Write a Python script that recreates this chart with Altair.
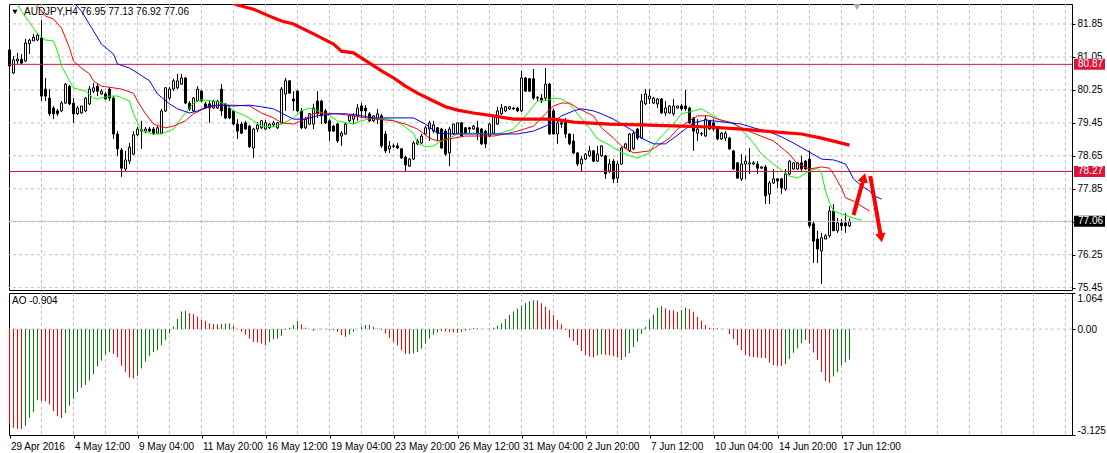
import altair as alt
import pandas as pd

# ---------------- data ----------------
opens = [81.22, 80.66, 80.95, 81.00, 80.95, 81.37, 81.44, 81.46, 81.51, 80.27,
         80.05, 79.81, 79.74, 79.74, 79.93, 80.34, 79.93, 79.67, 79.69, 79.74,
         79.91, 80.22, 80.34, 80.15, 80.15, 80.27, 80.05, 79.18, 78.79, 78.33,
         78.52, 78.69, 79.16, 79.25, 79.25, 79.30, 79.30, 79.20, 79.20, 79.74,
         80.05, 80.27, 80.30, 80.39, 80.54, 79.93, 79.74, 79.98, 80.22, 79.91,
         79.91, 79.81, 79.81, 80.27, 79.91, 79.81, 79.74, 79.42, 79.42, 79.45,
         79.37, 78.84, 79.30, 79.33, 79.30, 79.33, 79.40, 79.33, 79.45, 80.15,
         80.47, 80.03, 80.22, 79.74, 79.33, 79.42, 79.42, 79.98, 79.98, 79.74,
         79.50, 79.37, 79.42, 79.13, 79.18, 79.50, 79.54, 79.62, 79.86, 79.81,
         79.67, 79.50, 79.54, 79.62, 79.18, 78.82, 78.89, 78.89, 78.82, 78.62,
         78.40, 78.57, 78.94, 78.96, 79.18, 79.30, 79.25, 79.33, 79.30, 79.25,
         78.72, 79.18, 79.20, 79.45, 79.33, 79.33, 79.30, 79.33, 79.30, 79.25,
         79.13, 79.20, 79.42, 79.67, 79.74, 79.79, 79.81, 79.81, 79.74, 80.54,
         80.52, 80.52, 80.05, 80.05, 80.05, 80.39, 79.74, 79.18, 79.45, 79.50,
         79.18, 79.01, 78.72, 78.45, 78.57, 78.65, 78.77, 78.52, 78.65, 78.65,
         78.28, 78.52, 78.11, 78.45, 78.84, 78.77, 78.82, 79.30, 79.08, 79.91,
         80.03, 79.93, 79.91, 80.03, 79.69, 79.69, 79.67, 79.81, 79.86, 79.86,
         79.81, 79.57, 79.20, 79.18, 79.13, 79.50, 79.45, 79.33, 79.06, 79.08,
         79.08, 78.77, 78.48, 78.09, 78.45, 78.45, 78.45, 78.45, 78.35, 78.38,
         77.72, 77.99, 78.09, 78.09, 77.84, 78.21, 78.33, 78.33, 78.48, 78.52,
         78.57, 77.00, 76.63, 76.34, 76.63, 76.71, 77.31, 76.83, 77.02, 77.02,
         76.95]
highs = [81.27, 81.07, 81.15, 81.12, 81.49, 81.49, 81.61, 81.63, 81.95, 80.54,
         80.27, 79.86, 79.79, 79.98, 80.42, 80.37, 80.05, 79.86, 79.86, 80.08,
         80.34, 80.42, 80.39, 80.27, 80.20, 80.32, 80.10, 79.25, 78.84, 78.77,
         78.96, 79.25, 79.35, 79.50, 79.35, 79.35, 79.35, 79.37, 79.79, 80.32,
         80.32, 80.52, 80.64, 80.64, 80.56, 79.98, 80.08, 80.34, 80.25, 79.96,
         79.98, 80.01, 80.01, 80.39, 79.93, 79.86, 79.76, 79.54, 79.47, 79.50,
         79.40, 79.33, 79.47, 79.52, 79.52, 79.45, 79.50, 79.47, 80.32, 80.54,
         80.49, 80.22, 80.25, 79.81, 79.59, 79.69, 79.91, 80.22, 80.01, 79.79,
         79.54, 79.40, 79.45, 79.25, 79.45, 79.64, 79.69, 79.91, 79.93, 79.88,
         79.71, 79.64, 79.79, 79.67, 79.25, 79.01, 78.94, 78.96, 78.84, 78.65,
         78.60, 79.01, 79.06, 79.18, 79.37, 79.50, 79.50, 79.35, 79.33, 79.30,
         79.35, 79.42, 79.45, 79.47, 79.35, 79.35, 79.40, 79.50, 79.33, 79.28,
         79.45, 79.64, 79.84, 79.91, 79.86, 79.86, 79.84, 79.84, 80.71, 80.56,
         80.54, 80.76, 80.10, 80.15, 80.78, 80.42, 79.79, 79.50, 79.54, 79.57,
         79.20, 79.18, 78.74, 78.65, 78.72, 78.89, 78.79, 78.89, 78.91, 78.67,
         78.57, 78.57, 78.52, 78.87, 78.96, 79.20, 79.25, 79.33, 80.15, 80.27,
         80.27, 80.08, 80.05, 80.05, 79.98, 79.88, 80.03, 79.86, 79.91, 80.25,
         79.84, 79.59, 79.54, 79.23, 79.64, 79.52, 79.54, 79.35, 79.23, 79.25,
         79.11, 78.79, 78.50, 78.69, 78.65, 78.84, 78.52, 78.52, 78.40, 78.43,
         78.04, 78.33, 78.11, 78.11, 78.33, 78.55, 78.50, 78.50, 78.65, 78.55,
         78.77, 77.07, 76.83, 76.78, 76.75, 77.43, 77.48, 77.14, 77.12, 77.26,
         77.13]
lows = [80.78, 80.64, 80.88, 80.88, 80.93, 81.12, 81.44, 81.44, 79.98, 79.98,
        79.62, 79.54, 79.62, 79.71, 79.91, 79.88, 79.45, 79.64, 79.67, 79.71,
        79.88, 80.17, 80.10, 80.13, 80.01, 79.98, 79.06, 78.65, 78.14, 78.28,
        78.45, 78.67, 79.13, 78.82, 79.20, 79.23, 79.16, 79.18, 79.18, 79.71,
        80.01, 80.22, 80.27, 80.37, 79.91, 79.74, 79.71, 79.96, 79.96, 79.79,
        79.45, 79.79, 79.79, 79.62, 79.54, 79.54, 79.40, 79.06, 79.18, 79.28,
        78.84, 78.60, 79.23, 79.30, 79.28, 79.30, 79.35, 79.30, 79.42, 79.74,
        80.17, 79.74, 79.71, 79.30, 79.30, 79.40, 79.30, 79.57, 79.42, 79.42,
        79.01, 79.23, 78.96, 78.89, 79.16, 79.47, 79.42, 79.50, 79.57, 79.57,
        79.47, 79.47, 79.42, 78.84, 78.72, 78.72, 78.84, 78.82, 78.57, 78.26,
        78.38, 78.55, 78.91, 78.94, 79.16, 79.01, 79.20, 79.01, 78.82, 78.65,
        78.40, 79.16, 79.18, 79.11, 79.18, 79.20, 79.28, 79.03, 78.91, 78.84,
        79.11, 79.18, 79.40, 79.64, 79.71, 79.76, 79.76, 79.71, 79.71, 80.20,
        80.20, 80.01, 79.98, 79.93, 79.98, 79.16, 79.16, 78.94, 79.33, 79.08,
        78.91, 78.69, 78.40, 78.28, 78.55, 78.62, 78.50, 78.50, 78.62, 78.09,
        78.23, 77.99, 77.99, 78.43, 78.82, 78.74, 78.79, 79.03, 79.06, 79.88,
        79.91, 79.91, 79.81, 79.67, 79.62, 79.67, 79.62, 79.79, 79.74, 79.74,
        79.42, 78.77, 79.01, 79.13, 79.11, 79.28, 79.25, 79.03, 79.03, 79.01,
        78.79, 78.31, 78.09, 78.04, 78.09, 78.21, 78.43, 78.21, 78.33, 77.48,
        77.48, 77.97, 77.87, 77.72, 77.80, 78.18, 78.31, 78.31, 78.28, 78.31,
        76.90, 76.05, 76.05, 75.54, 76.63, 76.66, 76.83, 76.78, 76.83, 76.78,
        76.92]
closes = [80.83, 80.98, 81.00, 80.90, 81.39, 81.46, 81.53, 81.58, 80.10, 80.10,
          79.67, 79.67, 79.67, 79.93, 80.39, 79.91, 79.67, 79.81, 79.86, 80.05,
          80.27, 80.30, 80.22, 80.22, 80.03, 80.05, 79.18, 78.82, 78.35, 78.55,
          78.86, 79.16, 79.30, 79.28, 79.30, 79.25, 79.18, 79.33, 79.74, 80.30,
          80.27, 80.47, 80.47, 80.54, 79.93, 79.79, 80.05, 80.27, 79.98, 79.81,
          79.81, 79.98, 79.98, 79.74, 79.57, 79.57, 79.42, 79.25, 79.20, 79.30,
          78.87, 79.30, 79.40, 79.50, 79.45, 79.42, 79.45, 79.45, 80.27, 80.47,
          80.17, 79.98, 79.74, 79.33, 79.54, 79.67, 79.81, 79.67, 79.62, 79.45,
          79.25, 79.25, 79.01, 79.20, 79.42, 79.62, 79.62, 79.81, 79.74, 79.74,
          79.50, 79.62, 79.67, 78.89, 78.77, 78.89, 78.88, 78.84, 78.60, 78.43,
          78.57, 78.96, 79.01, 79.13, 79.33, 79.45, 79.40, 79.20, 78.84, 78.69,
          79.30, 79.42, 79.45, 79.13, 79.20, 79.30, 79.37, 79.18, 78.94, 78.94,
          79.42, 79.62, 79.74, 79.81, 79.84, 79.84, 79.79, 79.74, 80.54, 80.22,
          80.22, 80.05, 80.07, 79.98, 80.39, 79.18, 79.18, 79.45, 79.42, 79.18,
          78.94, 78.72, 78.45, 78.57, 78.69, 78.77, 78.52, 78.69, 78.89, 78.21,
          78.45, 78.09, 78.45, 78.84, 78.94, 79.18, 79.20, 79.08, 79.98, 80.15,
          80.10, 80.05, 80.03, 79.69, 79.81, 79.86, 79.86, 79.86, 79.79, 79.79,
          79.45, 79.25, 79.30, 79.19, 79.54, 79.30, 79.30, 79.06, 79.20, 79.20,
          78.82, 78.33, 78.11, 78.45, 78.52, 78.48, 78.48, 78.35, 78.38, 77.68,
          77.99, 78.09, 78.04, 77.87, 78.21, 78.52, 78.48, 78.48, 78.33, 78.33,
          76.95, 76.58, 76.39, 76.66, 76.71, 77.31, 76.83, 77.02, 76.95, 76.95,
          77.06]

ao_values = [-2.78, -2.91, -2.94, -2.95, -2.86, -2.62, -2.45, -2.10, -2.12, -2.13,
             -2.22, -2.42, -2.57, -2.62, -2.48, -2.26, -2.06, -1.86, -1.73, -1.65,
             -1.52, -1.33, -1.10, -0.93, -0.75, -0.68, -0.73, -0.83, -1.08, -1.26,
             -1.43, -1.46, -1.38, -1.16, -0.96, -0.80, -0.68, -0.62, -0.48, -0.33,
             -0.13, 0.07, 0.30, 0.52, 0.54, 0.47, 0.44, 0.37, 0.27, 0.24,
             0.17, 0.15, 0.14, 0.15, 0.16, 0.17, 0.09, -0.01, -0.08, -0.16,
             -0.28, -0.38, -0.40, -0.43, -0.48, -0.38, -0.30, -0.28, -0.20, -0.03,
             0.04, 0.12, 0.24, 0.14, 0.04, 0.00, -0.05, -0.01, 0.01, -0.01,
             -0.02, -0.03, -0.08, -0.18, -0.23, -0.16, -0.08, 0.00, 0.07, 0.12,
             0.13, 0.07, 0.02, -0.03, -0.13, -0.26, -0.38, -0.48, -0.63, -0.73,
             -0.74, -0.72, -0.68, -0.58, -0.43, -0.28, -0.16, -0.10, -0.06, -0.07,
             -0.08, -0.10, -0.11, -0.08, -0.05, -0.02, 0.03, 0.02, 0.01, 0.00,
             0.02, 0.04, 0.10, 0.17, 0.30, 0.42, 0.52, 0.60, 0.69, 0.77,
             0.82, 0.85, 0.84, 0.76, 0.66, 0.56, 0.41, 0.26, 0.14, -0.03,
             -0.25, -0.35, -0.47, -0.65, -0.76, -0.81, -0.84, -0.78, -0.75, -0.76,
             -0.77, -0.80, -0.84, -0.91, -0.82, -0.71, -0.53, -0.37, -0.14, 0.06,
             0.28, 0.43, 0.63, 0.68, 0.61, 0.56, 0.55, 0.51, 0.56, 0.63,
             0.59, 0.51, 0.36, 0.24, 0.12, 0.04, 0.03, 0.02, 0.01, 0.00,
             -0.15, -0.29, -0.47, -0.62, -0.76, -0.81, -0.83, -0.84, -0.85, -0.86,
             -0.99, -1.06, -1.08, -1.09, -1.03, -0.88, -0.70, -0.57, -0.42, -0.32,
             -0.42, -0.69, -0.91, -1.27, -1.53, -1.58, -1.40, -1.27, -1.06, -0.98,
             -0.904]

# Alligator lines (bar index, price) and the long moving average
jaw_idx = [14, 18, 21, 23, 26, 27, 30, 32, 35, 37, 40, 42, 45, 47, 50, 53, 56, 60, 63, 66,
           68, 71, 74, 77, 81, 84, 87, 91, 94, 97, 101, 104, 107, 111, 117, 124, 127, 131, 134, 136,
           138, 141, 143, 146, 148, 151, 153, 156, 158, 161, 164, 166, 169, 171, 174, 176, 180, 183, 186, 190,
           193, 196, 200, 203, 206, 207, 209, 210, 211, 213, 215, 216, 218]
jaw_val = [82.60, 82.16, 81.68, 81.36, 81.12, 80.88, 80.78, 80.66, 80.47, 80.15, 79.91, 79.79, 79.69, 79.74, 79.86, 79.88, 79.86, 79.88, 79.84, 79.79,
           79.69, 79.54, 79.54, 79.62, 79.67, 79.67, 79.64, 79.57, 79.57, 79.57, 79.57, 79.42, 79.20, 79.18, 79.18, 79.18, 79.18, 79.25, 79.37, 79.47,
           79.62, 79.74, 79.79, 79.74, 79.67, 79.54, 79.42, 79.25, 79.08, 78.94, 78.94, 79.08, 79.30, 79.45, 79.52, 79.50, 79.45, 79.42, 79.33, 79.23,
           79.11, 78.96, 78.74, 78.57, 78.55, 78.52, 78.45, 78.28, 78.09, 77.92, 77.80, 77.68, 77.60]

teeth_idx = [6, 9, 11, 13, 15, 16, 18, 20, 21, 23, 26, 28, 31, 32, 34, 36, 39, 41, 44, 46,
             49, 52, 56, 60, 63, 66, 68, 71, 73, 76, 78, 82, 86, 89, 92, 96, 99, 102, 105, 107,
             111, 114, 121, 124, 127, 131, 134, 136, 138, 140, 142, 146, 148, 151, 153, 156, 160, 162, 165, 167,
             170, 172, 175, 177, 180, 183, 186, 191, 195, 197, 200, 203, 205, 206, 208, 209, 211, 213, 215]
teeth_val = [82.40, 82.04, 81.97, 81.75, 81.27, 80.95, 80.78, 80.64, 80.47, 80.34, 80.30, 80.27, 80.17, 79.98, 79.67, 79.42, 79.33, 79.37, 79.50, 79.67,
             79.81, 79.88, 79.88, 79.86, 79.69, 79.57, 79.45, 79.42, 79.50, 79.67, 79.69, 79.67, 79.62, 79.57, 79.54, 79.50, 79.42, 79.30, 79.08, 79.01,
             79.08, 79.13, 79.13, 79.18, 79.25, 79.37, 79.67, 79.86, 79.93, 79.93, 79.81, 79.62, 79.33, 79.08, 78.89, 78.72, 78.77, 78.89, 79.08, 79.30,
             79.50, 79.62, 79.62, 79.54, 79.47, 79.33, 79.20, 79.01, 78.69, 78.45, 78.33, 78.38, 78.35, 78.21, 77.87, 77.63, 77.55, 77.43, 77.31]

lips_idx = [1, 3, 6, 7, 9, 11, 12, 13, 15, 16, 19, 21, 22, 25, 27, 30, 31, 33, 36, 38,
            41, 43, 46, 48, 51, 54, 56, 59, 61, 63, 66, 68, 71, 73, 75, 77, 80, 82, 86, 88,
            91, 95, 98, 101, 102, 104, 106, 108, 110, 112, 116, 119, 122, 126, 129, 132, 135, 136, 138, 140,
            142, 145, 147, 150, 151, 155, 157, 160, 161, 163, 166, 168, 171, 173, 176, 178, 181, 183, 186, 188,
            191, 195, 197, 200, 202, 203, 204, 205, 206, 208, 211, 213]
lips_val = [82.50, 82.16, 81.75, 81.61, 81.46, 81.44, 81.19, 80.83, 80.47, 80.30, 80.22, 80.05, 80.03, 80.10, 80.10, 79.98, 79.67, 79.25, 79.18, 79.18,
            79.30, 79.57, 79.93, 80.01, 79.98, 79.91, 79.74, 79.62, 79.50, 79.37, 79.35, 79.42, 79.57, 79.74, 79.81, 79.74, 79.62, 79.50, 79.42, 79.50,
            79.57, 79.54, 79.42, 79.20, 78.96, 78.87, 78.89, 79.01, 79.08, 79.18, 79.20, 79.18, 79.18, 79.30, 79.62, 79.98, 80.01, 80.05, 80.03, 79.91,
            79.67, 79.33, 79.06, 78.91, 78.84, 78.65, 78.60, 78.72, 78.89, 79.13, 79.42, 79.67, 79.74, 79.79, 79.62, 79.50, 79.45, 79.28, 78.96, 78.69,
            78.45, 78.16, 78.11, 78.28, 78.35, 78.23, 77.80, 77.51, 77.31, 77.24, 77.14, 77.09]

ma_idx = [50, 57, 61, 65, 68, 71, 76, 81, 83, 86, 90, 93, 96, 99, 102, 106, 109, 112, 116, 121,
          126, 131, 136, 141, 150, 158, 168, 175, 183, 191, 198, 203, 210]
ma_val = [82.60, 82.31, 82.21, 82.04, 81.92, 81.85, 81.61, 81.36, 81.19, 81.15, 80.90, 80.71, 80.54, 80.34, 80.17, 79.98, 79.84, 79.76, 79.69, 79.62,
          79.54, 79.54, 79.54, 79.47, 79.42, 79.40, 79.37, 79.35, 79.30, 79.23, 79.18, 79.08, 78.91]

price_ticks = [81.85, 81.05, 80.25, 79.45, 78.65, 77.85, 77.05, 76.25, 75.45]
level_prices = [80.87, 78.27, 77.06]
level_texts = ["80.87", "78.27", "77.06"]
level_line_colors = ["#DC143C", "#DC143C", "#C0C0C0"]
level_box_colors = ["#DC143C", "#DC143C", "#000000"]

x_label_idx = [0, 16, 32, 48, 64, 80, 96, 112, 128, 144, 160, 176, 192, 208]
x_label_text = ["29 Apr 2016", "4 May 12:00", "9 May 04:00", "11 May 20:00", "16 May 12:00",
                "19 May 04:00", "23 May 20:00", "26 May 12:00", "31 May 04:00", "2 Jun 20:00",
                "7 Jun 12:00", "10 Jun 04:00", "14 Jun 20:00", "17 Jun 12:00"]
grid_idx = list(range(8, 265, 8))

arrow_i0 = [211.0, 215.2]
arrow_p0 = [77.21, 78.16]
arrow_i1 = [213.6, 217.9]
arrow_p1 = [78.12, 76.66]
arrow_angle = [15, 170]

title_text = "AUDJPY,H4 76.95 77.13 76.92 77.06"
ao_text = "AO -0.904"

# ---------------- chart ----------------
FONT = "Liberation Sans"
W, H_TOP, H_AO = 1063, 286, 142
xs = alt.Scale(domain=[-0.125, 265.625], nice=False, zero=False)
ys = alt.Scale(domain=[75.393, 82.335], nice=False, zero=False)
aos = alt.Scale(domain=[-3.125, 1.064], nice=False, zero=False)
GRID = dict(color="#C0C0C0", strokeDash=[3, 3], strokeWidth=1)

PRICE_AXIS = alt.Axis(
    orient="right", values=price_ticks, format=".2f", title=None, domain=False,
    grid=False, tickSize=3, tickColor="black", labelFont=FONT, labelFontSize=10,
    labelColor="black", labelPadding=2)
AO_AXIS = alt.Axis(
    orient="right", values=[1.064, 0.0, -3.125], title=None, domain=False, grid=False,
    labelExpr="datum.value > 0.5 ? '1.064' : (datum.value < -1 ? '-3.125' : '0.00')",
    labelFlush=True, tickSize=3, tickColor="black", labelFont=FONT,
    labelFontSize=10, labelColor="black", labelPadding=2)
label_array = "[" + ",".join("'" + t + "'" for t in x_label_text) + "]"
TIME_AXIS = alt.Axis(
    orient="bottom", values=x_label_idx, title=None, domain=False, grid=False,
    labelExpr=label_array + "[round(datum.value / 16)]",
    labelAlign="left", labelFlush=False, labelOverlap=False, labelOffset=1,
    tickSize=3, tickColor="black", labelFont=FONT, labelFontSize=10,
    labelColor="black", labelPadding=3)


def PY(field):
    return alt.Y(field, scale=ys, axis=PRICE_AXIS)


def TX(field, axis=None):
    return alt.X(field, scale=xs, axis=axis)


candles = pd.DataFrame({"i": list(range(len(closes))), "o": opens, "h": highs,
                        "l": lows, "c": closes})

hgrid = alt.Chart(pd.DataFrame({"p": price_ticks})).mark_rule(**GRID).encode(y=PY("p:Q"))
vgrid = alt.Chart(pd.DataFrame({"g": grid_idx})).mark_rule(**GRID).encode(x=TX("g:Q"))

wicks = alt.Chart(candles).mark_rule(color="black", strokeWidth=1).encode(
    x=TX("i:Q"), y=PY("l:Q"), y2="h:Q")
bodies = alt.Chart(candles).transform_calculate(
    x1="datum.i - 0.25", x2="datum.i + 0.25"
).mark_rect(stroke="black", strokeWidth=1).encode(
    x=TX("x1:Q"), x2="x2:Q", y=PY("o:Q"), y2="c:Q",
    fill=alt.condition("datum.c >= datum.o", alt.value("white"), alt.value("black")))

levels = pd.DataFrame({"p": level_prices, "t": level_texts,
                       "line": level_line_colors, "box": level_box_colors})
level_rules = alt.Chart(levels).mark_rule(strokeWidth=1).encode(
    y=PY("p:Q"), color=alt.Color("line:N", scale=None))
BOX = "M-1.41,-0.5L1.41,-0.5L1.41,0.5L-1.41,0.5Z"
level_boxes = alt.Chart(levels).mark_point(
    shape=BOX, filled=True, size=484, opacity=1, strokeWidth=0).encode(
    x=alt.value(W + 17.5), y=PY("p:Q"), color=alt.Color("box:N", scale=None))
level_labels = alt.Chart(levels).mark_text(
    align="left", baseline="middle", font=FONT, fontSize=10, color="white").encode(
    x=alt.value(W + 6), y=PY("p:Q"), text="t:N")


def line_layer(idx, val, color, width):
    df = pd.DataFrame({"i": idx, "v": val})
    return alt.Chart(df).mark_line(color=color, strokeWidth=width, clip=True).encode(
        x=TX("i:Q"), y=PY("v:Q"))


ma_line = line_layer(ma_idx, ma_val, "#FF0000", 3.2)
jaw = line_layer(jaw_idx, jaw_val, "#0000FF", 1)
teeth = line_layer(teeth_idx, teeth_val, "#FF0000", 1)
lips = line_layer(lips_idx, lips_val, "#00FF00", 1)

arrows = pd.DataFrame({"i0": arrow_i0, "p0": arrow_p0, "i1": arrow_i1, "p1": arrow_p1,
                       "a": arrow_angle})
arrow_shafts = alt.Chart(arrows).mark_rule(color="#FF0000", strokeWidth=4).encode(
    x=TX("i0:Q"), x2="i1:Q", y=PY("p0:Q"), y2="p1:Q")
arrow_heads = alt.Chart(arrows).mark_point(
    shape="triangle-up", filled=True, size=110, color="#FF0000", opacity=1).encode(
    x=TX("i1:Q"), y=PY("p1:Q"), angle=alt.Angle("a:Q", scale=None))

title_layer = alt.Chart(pd.DataFrame({"t": [title_text]})).mark_text(
    align="left", baseline="middle", font=FONT, fontSize=10, color="black").encode(
    x=alt.value(15), y=alt.value(8), text="t:N")
title_tri = alt.Chart(pd.DataFrame({"t": [title_text]})).mark_point(
    shape="triangle-down", filled=True, size=26, color="black", opacity=1).encode(
    x=alt.value(6), y=alt.value(8))
shift_tri = alt.Chart(pd.DataFrame({"t": [title_text]})).mark_point(
    shape="triangle-down", filled=True, size=45, color="#A8A8A8", opacity=1).encode(
    x=alt.value(848), y=alt.value(3))

top = alt.layer(hgrid, vgrid, wicks, bodies, level_rules, lips, teeth, jaw, ma_line,
                arrow_shafts, arrow_heads, level_boxes, level_labels,
                title_tri, title_layer, shift_tri).properties(width=W, height=H_TOP)

# ---------------- AO panel ----------------
ao_df = pd.DataFrame({"i": list(range(len(ao_values))), "v": ao_values})
ao_df["up"] = ao_df["v"].diff().fillna(-1) > 0

ao_vgrid = alt.Chart(pd.DataFrame({"g": grid_idx})).mark_rule(**GRID).encode(
    x=TX("g:Q", TIME_AXIS))
ao_zero = alt.Chart(pd.DataFrame({"z": [0.0]})).mark_rule(**GRID).encode(
    y=alt.Y("z:Q", scale=aos, axis=AO_AXIS))
ao_bars = alt.Chart(ao_df).mark_rule(strokeWidth=1).encode(
    x=TX("i:Q", TIME_AXIS),
    y=alt.Y("v:Q", scale=aos, axis=AO_AXIS), y2=alt.datum(0),
    color=alt.condition("datum.up", alt.value("#008000"), alt.value("#FF0000")))
ao_label = alt.Chart(pd.DataFrame({"t": [ao_text]})).mark_text(
    align="left", baseline="middle", font=FONT, fontSize=10, color="black").encode(
    x=alt.value(3), y=alt.value(8), text="t:N")

bottom = alt.layer(ao_vgrid, ao_zero, ao_bars, ao_label).properties(width=W, height=H_AO)

chart = alt.vconcat(top, bottom, spacing=3, bounds="flush").properties(
    padding={"left": 7, "top": 3, "right": 0, "bottom": 0}
).configure(background="white").configure_view(stroke="black", strokeWidth=1)

chart.save("out.html", embed_options={"renderer": "svg", "actions": False})
